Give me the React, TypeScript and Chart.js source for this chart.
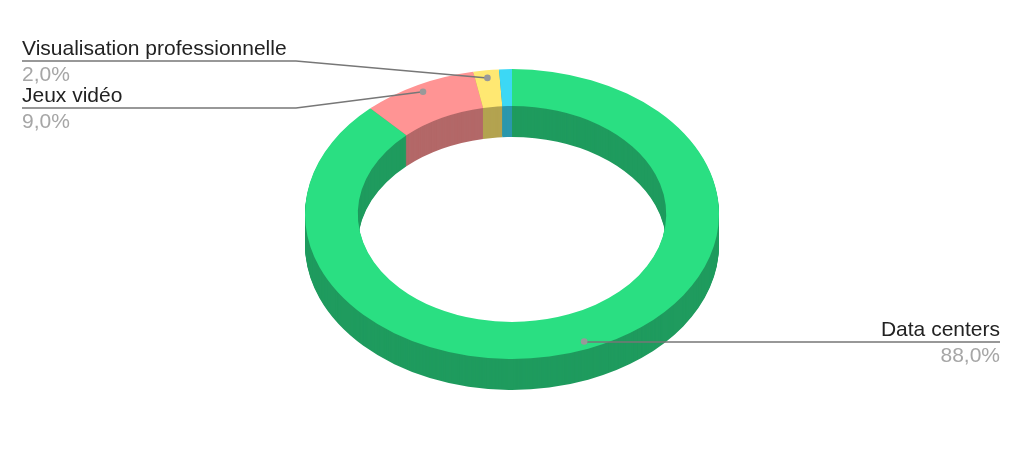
import React, { useEffect, useRef } from 'react';
import Chart from 'chart.js/auto';

const categories = ['Data centers', 'Jeux vidéo', 'Visualisation professionnelle', 'Autres'];
const shares = [88, 9, 2, 1];
const topColors = ['#2ADF82', '#FF9494', '#FFE872', '#3CD8F5'];
const sideColors = ['#1F9B5E', '#B36868', '#B3A350', '#2A97AC'];

// where each callout text sits: null = no callout
const callouts = [
    { textX: 1000, align: 'right', nameY: 336, valueY: 362, lineY: 342, elbowX: 584 },
    { textX: 22, align: 'left', nameY: 102, valueY: 128, lineY: 108, elbowX: 296 },
    { textX: 22, align: 'left', nameY: 55, valueY: 81, lineY: 61, elbowX: 296 },
    null,
];

const SQUASH = 0.7;
const CENTER_Y = 214;
const DEPTH = 31;
const DOT_RADIUS = 196;

function project(ctx: CanvasRenderingContext2D, chart: any, shift: number) {
    const cy = (chart.chartArea.top + chart.chartArea.bottom) / 2;
    ctx.translate(0, CENTER_Y + shift);
    ctx.scale(1, SQUASH);
    ctx.translate(0, -cy);
}

const ringPlugin = {
    id: 'ring3d',
    beforeDatasetsDraw(chart: any) {
        const ctx = chart.ctx;
        const arcs = chart.getDatasetMeta(0).data;
        // walls: the same ring in the darker colours, stacked downwards
        for (let shift = DEPTH; shift > 0; shift--) {
            ctx.save();
            project(ctx, chart, shift);
            arcs.forEach((arc: any, i: number) => {
                const top = arc.options.backgroundColor;
                arc.options.backgroundColor = sideColors[i];
                arc.draw(ctx);
                arc.options.backgroundColor = top;
            });
            ctx.restore();
        }
        ctx.save();
        project(ctx, chart, 0);
    },
    afterDatasetsDraw(chart: any) {
        chart.ctx.restore();
    },
    afterDraw(chart: any) {
        const ctx = chart.ctx;
        const arcs = chart.getDatasetMeta(0).data;
        const cy = (chart.chartArea.top + chart.chartArea.bottom) / 2;
        arcs.forEach((arc: any, i: number) => {
            const c = callouts[i];
            if (!c) return;
            const mid = (arc.startAngle + arc.endAngle) / 2;
            const dotX = arc.x + Math.cos(mid) * DOT_RADIUS;
            const dotY = CENTER_Y + ((arc.y - cy) + Math.sin(mid) * DOT_RADIUS) * SQUASH;

            ctx.save();
            ctx.strokeStyle = '#777777';
            ctx.lineWidth = 1.5;
            ctx.beginPath();
            ctx.moveTo(c.textX, c.lineY);
            ctx.lineTo(c.elbowX, c.lineY);
            ctx.lineTo(dotX, dotY);
            ctx.stroke();

            ctx.fillStyle = '#999999';
            ctx.beginPath();
            ctx.arc(dotX, dotY, 3.3, 0, Math.PI * 2);
            ctx.fill();

            ctx.font = '21px "Liberation Sans"';
            ctx.textAlign = c.align;
            ctx.textBaseline = 'alphabetic';
            ctx.fillStyle = '#222222';
            ctx.fillText(categories[i], c.textX, c.nameY);
            ctx.fillStyle = '#A6A6A6';
            ctx.fillText(shares[i].toFixed(1).replace('.', ',') + '%', c.textX, c.valueY);
            ctx.restore();
        });
    },
};

export default function App() {
    const canvasRef = useRef<HTMLCanvasElement | null>(null);

    useEffect(() => {
        document.body.style.margin = '0';
        if (!canvasRef.current) return;
        const chart = new Chart(canvasRef.current, {
            type: 'doughnut',
            data: {
                labels: categories,
                datasets: [{
                    data: shares,
                    backgroundColor: topColors,
                    borderWidth: 0,
                    clip: false,
                }],
            },
            options: {
                responsive: false,
                animation: false,
                radius: '90%',
                cutout: '74.5%',
                layout: { padding: 0 },
                plugins: {
                    legend: { display: false },
                    tooltip: { enabled: false },
                },
            },
            plugins: [ringPlugin],
        } as any);
        return () => chart.destroy();
    }, []);

    return <canvas ref={canvasRef} width={1024} height={460} style={{ display: 'block' }} />;
}
